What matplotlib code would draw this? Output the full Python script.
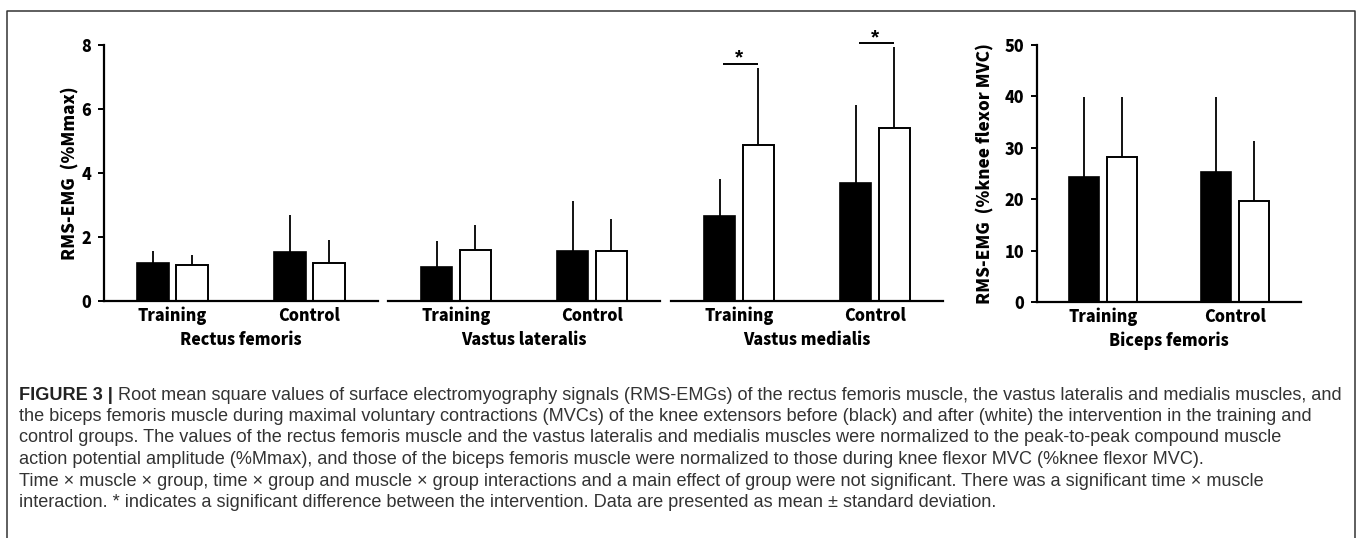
import matplotlib
matplotlib.use('Agg')
import matplotlib.pyplot as plt
from matplotlib.lines import Line2D
import numpy as np

# data
muscles = ['Rectus femoris', 'Vastus lateralis', 'Vastus medialis', 'Biceps femoris']
groups = ['Training', 'Control']
pre_mean = [[1.19, 1.53], [1.06, 1.56], [2.66, 3.69], [24.4, 25.2]]
pre_sd = [[0.37, 1.16], [0.82, 1.56], [1.15, 2.43], [15.5, 14.7]]
post_mean = [[1.12, 1.19], [1.59, 1.56], [4.88, 5.41], [28.3, 19.7]]
post_sd = [[0.32, 0.71], [0.79, 1.00], [2.40, 2.53], [11.6, 11.7]]
sig_height = [7.41, 8.06]  # vastus medialis, training / control

W, H = 1357, 538
fig = plt.figure(figsize=(W / 100, H / 100), dpi=100)

lab_font = ['Noto Sans CJK JP', 'DejaVu Sans']
cap_font = ['Liberation Sans', 'DejaVu Sans']
lab_w = 'heavy'
fs = 11.6

def px(x0, y0, x1, y1):
    # pixel box (top-left origin) -> figure fraction rect
    return [x0 / W, (H - y1) / H, (x1 - x0) / W, (y1 - y0) / H]

boxes = [px(104, 45, 378, 301), px(388, 45, 660, 301),
         px(671, 45, 943, 301), px(1037, 45, 1301, 302)]

xpos = np.array([1, 3])
bw = 0.46
off = 0.285

axes = []
for i, m in enumerate(muscles):
    ax = fig.add_axes(boxes[i])
    axes.append(ax)
    ekw = dict(ecolor='black', elinewidth=1.3, capsize=0)
    ax.bar(xpos - off, pre_mean[i], bw, color='black', edgecolor='black', lw=1.2,
           yerr=[[0, 0], pre_sd[i]], error_kw=ekw, zorder=2)
    ax.bar(xpos + off, post_mean[i], bw, color='white', edgecolor='black', lw=1.4,
           yerr=[[0, 0], post_sd[i]], error_kw=ekw, zorder=2)
    ax.set_xlim(0, 4)
    ax.set_xticks(xpos)
    ax.set_xticklabels(groups, fontfamily=lab_font, fontweight=lab_w, fontsize=fs)
    ax.tick_params(axis='x', length=0, pad=4)
    ax.set_xlabel(m, fontfamily=lab_font, fontweight=lab_w, fontsize=fs, labelpad=4)
    for s in ['top', 'right']:
        ax.spines[s].set_visible(False)
    ax.spines['bottom'].set_linewidth(1.6)
    ax.spines['left'].set_linewidth(1.6)
    ax.patch.set_visible(False)
    if i in (1, 2):
        ax.spines['left'].set_visible(False)
        ax.set_yticks([])
    if i < 3:
        ax.set_ylim(0, 8)
    else:
        ax.set_ylim(0, 50)

for ax, top in [(axes[0], 8), (axes[3], 50)]:
    step = 2 if top == 8 else 10
    ax.set_yticks(np.arange(0, top + 1, step))
    ax.tick_params(axis='y', direction='out', length=4, width=1.4, pad=5)
    for t in ax.get_yticklabels():
        t.set_fontfamily(lab_font)
        t.set_fontweight(lab_w)
        t.set_fontsize(fs)

axes[0].set_ylabel('RMS-EMG  (%Mmax)', fontfamily=lab_font, fontweight=lab_w,
                   fontsize=12.3, labelpad=2.5)
axes[3].set_ylabel('RMS-EMG  (%knee flexor MVC)', fontfamily=lab_font, fontweight=lab_w,
                   fontsize=12.3, labelpad=8)

# significance marks on vastus medialis
ax = axes[2]
for j, h in enumerate(sig_height):
    ax.plot([xpos[j] - off + 0.05, xpos[j] + off], [h, h], color='black', lw=1.4,
            clip_on=False, solid_capstyle='butt')
    ax.text(xpos[j], h - 0.12, '*', ha='center', va='bottom', fontsize=15,
            fontfamily=cap_font, fontweight='bold', clip_on=False)

# outer frame
fx = [7 / W, 7 / W, 1355 / W, 1355 / W]
fy = [0, 1 - 11 / H, 1 - 11 / H, 0]
fig.add_artist(Line2D(fx, fy, transform=fig.transFigure, color='#333333', lw=1.1))

# caption
cap_lines = [
    'Root mean square values of surface electromyography signals (RMS-EMGs) of the rectus femoris muscle, the vastus lateralis and medialis muscles, and',
    'the biceps femoris muscle during maximal voluntary contractions (MVCs) of the knee extensors before (black) and after (white) the intervention in the training and',
    'control groups. The values of the rectus femoris muscle and the vastus lateralis and medialis muscles were normalized to the peak-to-peak compound muscle',
    'action potential amplitude (%Mmax), and those of the biceps femoris muscle were normalized to those during knee flexor MVC (%knee flexor MVC).',
    'Time \u00d7 muscle \u00d7 group, time \u00d7 group and muscle \u00d7 group interactions and a main effect of group were not significant. There was a significant time \u00d7 muscle',
    'interaction. * indicates a significant difference between the intervention. Data are presented as mean \u00b1 standard deviation.',
]
cap_x = 19 / W
cap_y0 = 395
cap_dy = 21.5
cap_fs = 13.1
renderer = fig.canvas.get_renderer()
head = fig.text(cap_x, 1 - cap_y0 / H, 'FIGURE 3 | ', fontfamily=cap_font, fontweight='bold',
                fontsize=cap_fs, va='center', color='#222222')
bb = head.get_window_extent(renderer)
fig.text(bb.x1 / W, 1 - cap_y0 / H, cap_lines[0], fontfamily=cap_font, fontsize=cap_fs,
         va='center', color='#333333')
for k in range(1, len(cap_lines)):
    fig.text(cap_x, 1 - (cap_y0 + k * cap_dy) / H, cap_lines[k], fontfamily=cap_font,
             fontsize=cap_fs, va='center', color='#333333')

fig.savefig('out.png', dpi=100)
